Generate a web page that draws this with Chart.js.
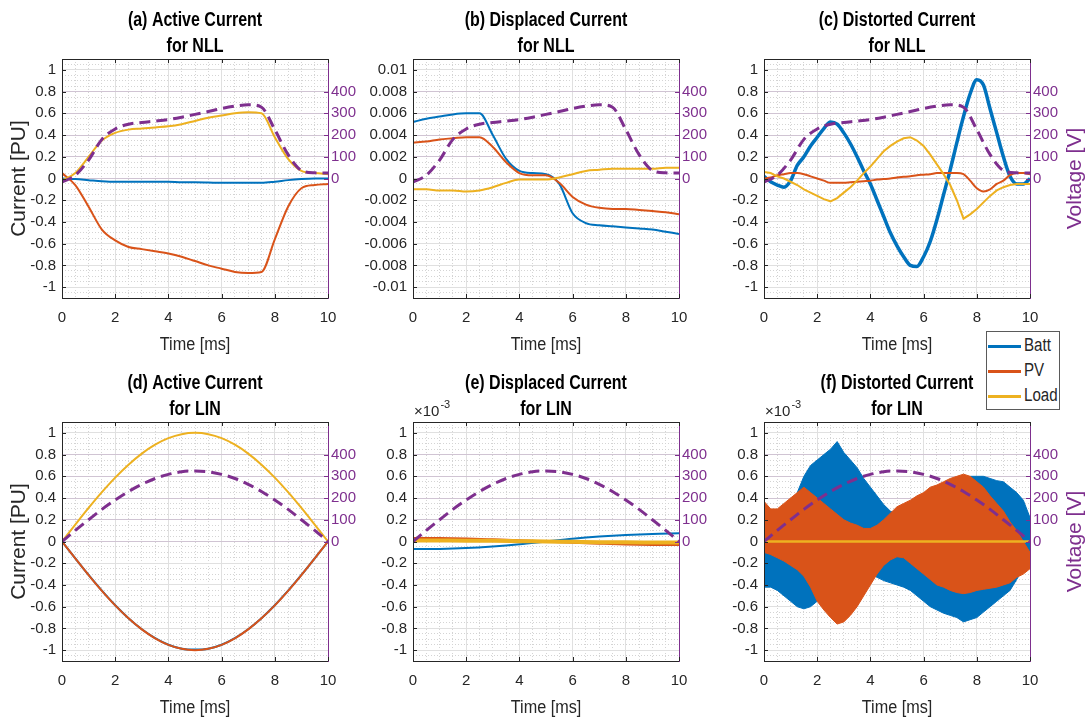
<!DOCTYPE html>
<html>
<head>
<meta charset="utf-8">
<script src="https://cdn.jsdelivr.net/npm/chart.js@4"></script>
<style>
  body { margin: 0; background: #fff; }
  #fig { position: relative; width: 1089px; height: 723px; overflow: hidden; }
  #fig canvas { position: absolute; }
  #legend {
    position: absolute; left: 986px; top: 331px; width: 72px; height: 76px;
    border: 1px solid #5a5a5a; background: #fff; padding-top: 1px;
    font-family: 'Liberation Sans', Arial, sans-serif;
    font-size: 18px; color: #262626;
  }
  #legend div { height: 25px; line-height: 25px; white-space: nowrap; }
  #legend i { display: inline-block; width: 33px; height: 3px; margin: 0 3px 0 1px; vertical-align: middle; }
  #legend span { display: inline-block; transform: scaleX(0.84); transform-origin: 0 50%; }
</style>
</head>
<body>
<div id="fig">
  <canvas id="pa" width="365" height="360" style="left:0;top:0"></canvas>
  <canvas id="pb" width="355" height="360" style="left:365px;top:0"></canvas>
  <canvas id="pc" width="369" height="360" style="left:720px;top:0"></canvas>
  <canvas id="pd" width="365" height="360" style="left:0;top:363px"></canvas>
  <canvas id="pe" width="355" height="360" style="left:365px;top:363px"></canvas>
  <canvas id="pf" width="369" height="360" style="left:720px;top:363px"></canvas>
  <div id="legend">
    <div><i style="background:#0072BD"></i><span>Batt</span></div>
    <div><i style="background:#D95319"></i><span>PV</span></div>
    <div><i style="background:#EDB120"></i><span>Load</span></div>
  </div>
</div>
<script>
const BATT = '#0072BD', PV = '#D95319', LOAD = '#EDB120', VOLT = '#7E2F8E';
const AXIS = '#262626', GRID = '#e0e0e0', VGRID = 'rgba(126,47,142,0.16)', MINOR = '#d4d4d4';
const FONT = "'Liberation Sans', Arial, sans-serif";

// axis ticks
const timeTicks = [0, 2, 4, 6, 8, 10];
const timeLabels = ['0', '2', '4', '6', '8', '10'];
const puTicks = [-1, -0.8, -0.6, -0.4, -0.2, 0, 0.2, 0.4, 0.6, 0.8, 1];
const puLabels = ['-1', '-0.8', '-0.6', '-0.4', '-0.2', '0', '0.2', '0.4', '0.6', '0.8', '1'];
const smallTicks = [-0.01, -0.008, -0.006, -0.004, -0.002, 0, 0.002, 0.004, 0.006, 0.008, 0.01];
const smallLabels = ['-0.01', '-0.008', '-0.006', '-0.004', '-0.002', '0', '0.002', '0.004', '0.006', '0.008', '0.01'];
const voltTicks = [0, 100, 200, 300, 400];
const voltLabels = ['0', '100', '200', '300', '400'];

// NLL case, 0.5 ms samples
const tNLL = [0, 0.5, 1, 1.5, 2, 2.5, 3, 3.5, 4, 4.5, 5, 5.5, 6, 6.5, 7, 7.5, 8, 8.5, 9, 9.5, 10];
const vNLL = [-17, 15, 85, 180, 228, 250, 258, 264, 271, 282, 295, 308, 322, 333, 340, 328, 225, 110, 37, 26, 25];
const activeNLLBatt = [0, -0.005, -0.015, -0.025, -0.03, -0.03, -0.03, -0.03, -0.03, -0.035, -0.035, -0.037, -0.04, -0.04, -0.04, -0.04, -0.03, -0.015, -0.005, 0, 0];
const activeNLLPV = [0.05, -0.06, -0.26, -0.47, -0.57, -0.63, -0.65, -0.67, -0.69, -0.72, -0.76, -0.8, -0.83, -0.86, -0.87, -0.86, -0.56, -0.26, -0.09, -0.06, -0.05];
const activeNLLLoad = [-0.02, 0.05, 0.2, 0.35, 0.42, 0.45, 0.46, 0.47, 0.48, 0.5, 0.53, 0.56, 0.58, 0.6, 0.61, 0.6, 0.38, 0.18, 0.07, 0.05, 0.04];
const dispNLLBatt = [0.0052, 0.0055, 0.0057, 0.0059, 0.006, 0.006, 0.004, 0.0018, 0.0007, 0.0005, 0.0004, -0.0005, -0.0032, -0.0041, -0.0043, -0.0044, -0.0045, -0.0046, -0.0047, -0.0049, -0.0051];
const dispNLLPV = [0.0033, 0.0034, 0.0036, 0.0037, 0.0038, 0.0038, 0.0029, 0.0015, 0.0005, 0.0003, 0.0003, -0.0004, -0.0017, -0.0024, -0.0027, -0.0028, -0.0028, -0.0029, -0.003, -0.0031, -0.0033];
const dispNLLLoad = [-0.001, -0.001, -0.0011, -0.0011, -0.0012, -0.0011, -0.0008, -0.0004, -0.0001, -0.0001, -0.0001, 0.0001, 0.0004, 0.0007, 0.0008, 0.0009, 0.0009, 0.0009, 0.0009, 0.001, 0.001];

// distorted currents, 0.25 ms samples
const tFine = [0, 0.25, 0.5, 0.75, 1, 1.25, 1.5, 1.75, 2, 2.25, 2.5, 2.75, 3, 3.25, 3.5, 3.75, 4, 4.25, 4.5, 4.75,
  5, 5.25, 5.5, 5.75, 6, 6.25, 6.5, 6.75, 7, 7.25, 7.5, 7.75, 8, 8.25, 8.5, 8.75, 9, 9.25, 9.5, 9.75, 10];
const distNLLBatt = [0.02, -0.03, -0.06, -0.08, -0.02, 0.12, 0.2, 0.3, 0.38, 0.46, 0.52, 0.5, 0.42, 0.32, 0.2, 0.07, -0.05, -0.2, -0.35, -0.5,
  -0.62, -0.72, -0.8, -0.81, -0.72, -0.58, -0.38, -0.15, 0.08, 0.33, 0.57, 0.78, 0.91, 0.86, 0.64, 0.42, 0.2, 0.02, -0.05, -0.05, 0];
const distNLLPV = [0, 0.01, 0.03, 0.04, 0.05, 0.05, 0.04, 0.02, 0, -0.02, -0.04, -0.04, -0.04, -0.035, -0.03, -0.025, -0.02, -0.01, -0.005, 0,
  0.01, 0.015, 0.02, 0.03, 0.035, 0.04, 0.05, 0.05, 0.05, 0.05, 0.04, -0.02, -0.09, -0.12, -0.1, -0.05, -0.02, 0.03, 0.05, 0.05, 0.04];
const distNLLLoad = [0.06, 0.05, 0.02, 0, -0.03, -0.06, -0.1, -0.13, -0.16, -0.19, -0.21, -0.18, -0.13, -0.08, -0.02, 0.05, 0.11, 0.18, 0.25, 0.3,
  0.34, 0.37, 0.38, 0.35, 0.3, 0.22, 0.13, 0.04, -0.06, -0.2, -0.37, -0.33, -0.28, -0.22, -0.16, -0.11, -0.08, -0.06, -0.05, -0.05, -0.05];

// LIN case
const tLIN = [0, 0.5, 1, 1.5, 2, 2.5, 3, 3.5, 4, 4.5, 5, 5.5, 6, 6.5, 7, 7.5, 8, 8.5, 9, 9.5, 10];
const vLIN = [0, 51, 100, 148, 191, 230, 263, 290, 309, 321, 325, 321, 309, 290, 263, 230, 191, 148, 100, 51, 0];
const activeLINLoad = [0, 0.156, 0.309, 0.454, 0.588, 0.707, 0.809, 0.891, 0.951, 0.988, 1, 0.988, 0.951, 0.891, 0.809, 0.707, 0.588, 0.454, 0.309, 0.156, 0];
const activeLINPV = [0, -0.156, -0.309, -0.454, -0.588, -0.707, -0.809, -0.891, -0.951, -0.988, -1, -0.988, -0.951, -0.891, -0.809, -0.707, -0.588, -0.454, -0.309, -0.156, 0];
const activeLINBatt = [0, -0.155, -0.308, -0.453, -0.587, -0.706, -0.808, -0.89, -0.95, -0.987, -0.995, -0.987, -0.95, -0.89, -0.808, -0.706, -0.587, -0.453, -0.308, -0.155, 0];
// displaced and distorted LIN currents are in units of 1e-3 PU
const tLINe = [0, 1, 2, 3, 4, 5, 6, 7, 8, 9, 10];
const dispLINBatt = [-0.07, -0.068, -0.06, -0.045, -0.025, 0, 0.025, 0.045, 0.06, 0.07, 0.075];
const dispLINPV = [0.03, 0.029, 0.025, 0.018, 0.01, 0, -0.01, -0.018, -0.025, -0.029, -0.03];
const dispLINLoad = [0.01, 0.009, 0.008, 0.006, 0.003, 0, -0.003, -0.006, -0.008, -0.009, -0.01];
const distLINBattHi = [0.1, 0.1, 0.1, 0.15, 0.3, 0.45, 0.6, 0.7, 0.75, 0.8, 0.85, 0.92, 0.82, 0.75, 0.68, 0.58, 0.5, 0.42, 0.34, 0.28,
  0.25, 0.3, 0.3, 0.35, 0.4, 0.4, 0.45, 0.5, 0.5, 0.55, 0.58, 0.6, 0.6, 0.6, 0.58, 0.56, 0.55, 0.5, 0.45, 0.38, 0.22];
const distLINBattLo = [-0.42, -0.42, -0.45, -0.5, -0.55, -0.6, -0.62, -0.6, -0.55, -0.5, -0.45, -0.4, -0.35, -0.3, -0.3, -0.3, -0.3, -0.33, -0.36, -0.38,
  -0.4, -0.42, -0.45, -0.5, -0.55, -0.6, -0.63, -0.66, -0.68, -0.7, -0.74, -0.72, -0.7, -0.65, -0.6, -0.55, -0.5, -0.45, -0.35, -0.25, -0.15];
const distLINPVHi = [0.37, 0.3, 0.3, 0.35, 0.4, 0.45, 0.5, 0.45, 0.4, 0.35, 0.3, 0.25, 0.2, 0.17, 0.15, 0.12, 0.12, 0.15, 0.2, 0.26,
  0.32, 0.35, 0.38, 0.42, 0.45, 0.5, 0.52, 0.55, 0.58, 0.6, 0.62, 0.6, 0.55, 0.5, 0.42, 0.35, 0.28, 0.18, 0.1, 0, -0.1];
const distLINPVLo = [-0.1, -0.12, -0.15, -0.18, -0.22, -0.26, -0.32, -0.42, -0.55, -0.63, -0.7, -0.76, -0.74, -0.68, -0.6, -0.5, -0.4, -0.3, -0.22, -0.17,
  -0.14, -0.15, -0.2, -0.25, -0.3, -0.35, -0.4, -0.42, -0.45, -0.47, -0.48, -0.47, -0.45, -0.44, -0.43, -0.42, -0.4, -0.38, -0.33, -0.3, -0.25];
const distLINLoad = [0, 0, 0, 0, 0, 0, 0, 0, 0, 0, 0];

const pts = (t, y) => t.map((x, i) => ({ x, y: y[i] }));

function series(label, color, t, y, order, extra = {}) {
  return Object.assign({
    label, data: pts(t, y), borderColor: color, backgroundColor: color,
    borderWidth: 2, pointRadius: 0, xAxisID: 'x', yAxisID: 'y', order,
    cubicInterpolationMode: 'monotone', fill: false
  }, extra);
}

function voltage(t, v) {
  return {
    label: 'Voltage', data: pts(t, v), borderColor: VOLT, borderWidth: 3, borderDash: [11, 6],
    pointRadius: 0, xAxisID: 'x', yAxisID: 'y2', order: 0, cubicInterpolationMode: 'monotone', fill: false
  };
}

const straight = { cubicInterpolationMode: 'default', tension: 0 };

// horizontally condensed text
function squeezed(ctx, text, x, y, k) {
  ctx.save();
  ctx.translate(x, y);
  ctx.scale(k, 1);
  ctx.fillText(text, 0, 0);
  ctx.restore();
}

// titles, axis names, inner tick marks and the top edge of the box
function decor(o) {
  return {
    id: 'decor',
    afterDraw(chart) {
      const { ctx, chartArea: ca, scales } = chart;
      const cx = (ca.left + ca.right) / 2, cy = (ca.top + ca.bottom) / 2;
      ctx.save();
      ctx.lineWidth = 1;
      ctx.strokeStyle = AXIS;
      ctx.beginPath();
      ctx.moveTo(ca.left, ca.top + 0.5);
      ctx.lineTo(ca.right, ca.top + 0.5);
      timeTicks.forEach(v => {
        const x = Math.round(scales.x.getPixelForValue(v)) + 0.5;
        ctx.moveTo(x, ca.bottom); ctx.lineTo(x, ca.bottom - 4);
        ctx.moveTo(x, ca.top); ctx.lineTo(x, ca.top + 4);
      });
      o.yTicks.forEach(v => {
        const y = Math.round(scales.y.getPixelForValue(v)) + 0.5;
        ctx.moveTo(ca.left, y); ctx.lineTo(ca.left + 4, y);
      });
      ctx.stroke();
      ctx.strokeStyle = VOLT;
      ctx.beginPath();
      voltTicks.forEach(v => {
        const y = Math.round(scales.y2.getPixelForValue(v)) + 0.5;
        ctx.moveTo(ca.right, y); ctx.lineTo(ca.right - 4, y);
      });
      ctx.stroke();

      ctx.textAlign = 'center';
      ctx.textBaseline = 'alphabetic';
      ctx.fillStyle = '#000';
      ctx.font = `bold 20px ${FONT}`;
      squeezed(ctx, o.title[0], cx, ca.top - 33, 0.8);
      squeezed(ctx, o.title[1], cx, ca.top - 7, 0.8);
      ctx.fillStyle = AXIS;
      ctx.textBaseline = 'middle';
      ctx.font = `18px ${FONT}`;
      squeezed(ctx, 'Time [ms]', cx, ca.bottom + 47, 0.9);
      ctx.font = `21px ${FONT}`;
      if (o.yTitle) {
        ctx.save();
        ctx.translate(ca.left - 43, cy);
        ctx.rotate(-Math.PI / 2);
        ctx.fillText(o.yTitle, 0, 0);
        ctx.restore();
      }
      if (o.y2Title) {
        ctx.save();
        ctx.fillStyle = VOLT;
        ctx.translate(ca.right + 45, cy);
        ctx.rotate(-Math.PI / 2);
        ctx.fillText(o.y2Title, 0, 0);
        ctx.restore();
      }
      if (o.exponent) {
        ctx.textAlign = 'left';
        ctx.textBaseline = 'alphabetic';
        ctx.font = `15px ${FONT}`;
        ctx.fillText('\u00d710', ca.left + 1, ca.top - 6);
        const w = ctx.measureText('\u00d710').width;
        ctx.font = `11px ${FONT}`;
        ctx.fillText(o.exponent, ca.left + 2 + w, ca.top - 14);
      }
      ctx.restore();
    }
  };
}

function panel(id, o) {
  const tickFont = { family: FONT, size: 15 };
  return new Chart(document.getElementById(id), {
    type: 'line',
    data: { datasets: o.datasets },
    options: {
      responsive: false,
      animation: false,
      events: [],
      layout: { padding: { top: 59, left: 0, right: 0, bottom: 0 } },
      plugins: { legend: { display: false }, tooltip: { enabled: false } },
      scales: {
        x: {
          type: 'linear', position: 'bottom', min: 0, max: 10,
          afterBuildTicks: s => { s.ticks = timeTicks.map(value => ({ value })); },
          afterFit: s => { s.height = 62; },
          ticks: { font: tickFont, color: AXIS, padding: 11, maxRotation: 0, autoSkip: false, callback: (v, i) => timeLabels[i] },
          grid: { color: GRID, drawTicks: false },
          border: { color: AXIS, z: 1 }
        },
        y: {
          type: 'linear', position: 'left', min: -o.yMax, max: o.yMax,
          afterBuildTicks: s => { s.ticks = o.yTicks.map(value => ({ value })); },
          afterFit: s => { s.width = o.yW; },
          ticks: { font: tickFont, color: AXIS, padding: 6, autoSkip: false, callback: (v, i) => o.yLabels[i] },
          grid: { color: GRID, drawTicks: false },
          border: { color: AXIS, z: 1 }
        },
        y2: {
          type: 'linear', position: 'right', min: -550, max: 550,
          afterBuildTicks: s => { s.ticks = voltTicks.map(value => ({ value })); },
          afterFit: s => { s.width = o.y2W; },
          ticks: { font: tickFont, color: VOLT, padding: 3, autoSkip: false, callback: (v, i) => voltLabels[i] },
          grid: { color: VGRID, drawTicks: false },
          border: { color: VOLT, z: 1 }
        },
        xMinor: {
          type: 'linear', position: 'bottom', min: 0, max: 10,
          afterFit: s => { s.height = 0; },
          ticks: { display: false, stepSize: 0.5 },
          grid: { color: MINOR, drawTicks: false, z: -2 },
          border: { display: false, dash: [1, 2] }
        },
        yMinor: {
          type: 'linear', position: 'left', min: -o.yMax, max: o.yMax,
          afterFit: s => { s.width = 0; },
          ticks: { display: false, stepSize: o.minor },
          grid: { color: MINOR, drawTicks: false, z: -2 },
          border: { display: false, dash: [1, 2] }
        }
      }
    },
    plugins: [decor(o)]
  });
}

const left = { yW: 62, y2W: 37 }, mid = { yW: 48, y2W: 41 }, right = { yW: 44, y2W: 59 };
const pu = { yMax: 1.1, minor: 0.05, yTicks: puTicks, yLabels: puLabels };

panel('pa', Object.assign({}, left, pu, {
  title: ['(a) Active Current', 'for NLL'], yTitle: 'Current [PU]',
  datasets: [
    series('Batt', BATT, tNLL, activeNLLBatt, 3),
    series('PV', PV, tNLL, activeNLLPV, 2),
    series('Load', LOAD, tNLL, activeNLLLoad, 1),
    voltage(tNLL, vNLL)
  ]
}));

panel('pb', Object.assign({}, mid, {
  yMax: 0.011, minor: 0.0005, yTicks: smallTicks, yLabels: smallLabels,
  title: ['(b) Displaced Current', 'for NLL'],
  datasets: [
    series('Batt', BATT, tNLL, dispNLLBatt, 3),
    series('PV', PV, tNLL, dispNLLPV, 2),
    series('Load', LOAD, tNLL, dispNLLLoad, 1),
    voltage(tNLL, vNLL)
  ]
}));

panel('pc', Object.assign({}, right, pu, {
  title: ['(c) Distorted Current', 'for NLL'], y2Title: 'Voltage [V]',
  datasets: [
    series('Batt', BATT, tFine, distNLLBatt, 3, { borderWidth: 3.5 }),
    series('PV', PV, tFine, distNLLPV, 2),
    series('Load', LOAD, tFine, distNLLLoad, 1, straight),
    voltage(tNLL, vNLL)
  ]
}));

panel('pd', Object.assign({}, left, pu, {
  title: ['(d) Active Current', 'for LIN'], yTitle: 'Current [PU]',
  datasets: [
    series('Batt', BATT, tLIN, activeLINBatt, 3),
    series('PV', PV, tLIN, activeLINPV, 2),
    series('Load', LOAD, tLIN, activeLINLoad, 1),
    voltage(tLIN, vLIN)
  ]
}));

panel('pe', Object.assign({}, mid, pu, {
  title: ['(e) Displaced Current', 'for LIN'], exponent: '-3',
  datasets: [
    series('Batt', BATT, tLINe, dispLINBatt, 3),
    series('PV', PV, tLINe, dispLINPV, 2, { borderWidth: 2.5 }),
    series('Load', LOAD, tLINe, dispLINLoad, 1, { borderWidth: 4 }),
    voltage(tLIN, vLIN)
  ]
}));

panel('pf', Object.assign({}, right, pu, {
  title: ['(f) Distorted Current', 'for LIN'], y2Title: 'Voltage [V]', exponent: '-3',
  datasets: [
    series('Batt', BATT, tFine, distLINBattHi, 4, Object.assign({ fill: 1, borderWidth: 1 }, straight)),
    series('Batt', BATT, tFine, distLINBattLo, 4, Object.assign({ borderWidth: 1 }, straight)),
    series('PV', PV, tFine, distLINPVHi, 3, Object.assign({ fill: 3, borderWidth: 1 }, straight)),
    series('PV', PV, tFine, distLINPVLo, 3, Object.assign({ borderWidth: 1 }, straight)),
    series('Load', LOAD, tLINe, distLINLoad, 1, { borderWidth: 2.5 }),
    voltage(tLIN, vLIN)
  ]
}));
</script>
</body>
</html>
